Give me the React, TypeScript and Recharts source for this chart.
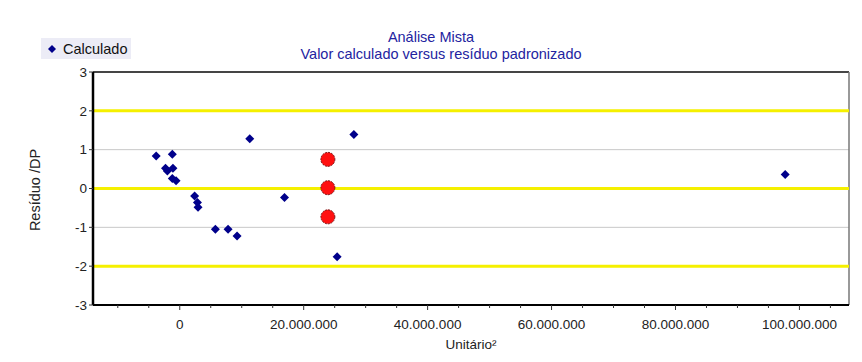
import { ScatterChart, Scatter, XAxis, YAxis, CartesianGrid, ReferenceLine } from "recharts";

// calculated value (Unitário²) vs standardized residual
const calcX = [
  -3.8e6, -2.3e6, -2.0e6, -1.2e6, -1.1e6, -1.2e6, -0.6e6, 2.4e6, 2.85e6, 2.95e6,
  5.75e6, 7.8e6, 9.25e6, 11.3e6, 16.9e6, 25.4e6, 28.1e6, 97.7e6,
];
const calcY = [
  0.84, 0.52, 0.45, 0.88, 0.52, 0.26, 0.2, -0.19, -0.36, -0.48,
  -1.05, -1.05, -1.22, 1.28, -0.23, -1.76, 1.39, 0.36,
];

// highlighted (red) points
const markX = [23.9e6, 23.9e6, 23.9e6];
const markY = [0.75, 0.02, -0.73];

const xTicks = [
  -10e6, -5e6, 0, 5e6, 10e6, 15e6, 20e6, 25e6, 30e6, 35e6, 40e6, 45e6,
  50e6, 55e6, 60e6, 65e6, 70e6, 75e6, 80e6, 85e6, 90e6, 95e6, 100e6, 105e6,
];
const xLabelTicks = [0, 20e6, 40e6, 60e6, 80e6, 100e6];
const yTicks = [-3, -2, -1, 0, 1, 2, 3];
const limitLines = [2, 0, -2];

const calcData = calcX.map((x, i) => ({ x, y: calcY[i] }));
const markData = markX.map((x, i) => ({ x, y: markY[i] }));

const FONT = "'Liberation Sans', Arial, sans-serif";
const NAVY = "#00008b";

const fmt = (n: number) => String(n).replace(/\B(?=(\d{3})+(?!\d))/g, ".");

const Diamond = (props: any) => {
  const { cx, cy } = props;
  const r = 4.5;
  return <polygon points={`${cx},${cy - r} ${cx + r},${cy} ${cx},${cy + r} ${cx - r},${cy}`} fill={NAVY} />;
};

const RedDot = (props: any) => {
  const { cx, cy } = props;
  return <circle cx={cx} cy={cy} r={7} fill="#ff1010" stroke="#7a1010" strokeWidth={1} strokeDasharray="2 1" />;
};

const XTick = (props: any) => {
  const { x, y, payload } = props;
  const major = xLabelTicks.includes(payload.value);
  return (
    <g>
      <line x1={x} x2={x} y1={y} y2={y + (major ? 5 : 3)} stroke="#333" strokeWidth={1} />
      {major && (
        <text x={x} y={y + 24} textAnchor="middle" fontFamily={FONT} fontSize={13.5} fill="#222">
          {fmt(payload.value)}
        </text>
      )}
    </g>
  );
};

export default function App() {
  return (
    <div style={{ position: "absolute", left: 0, top: 0, width: 862, height: 362, background: "#fff", fontFamily: FONT }}>
      <div style={{ position: "absolute", left: 41, top: 38, width: 90, height: 21, background: "#ececf6", display: "flex", alignItems: "center", fontSize: 14.5, color: "#111" }}>
        <svg width={10} height={10} style={{ marginLeft: 6, marginRight: 6 }}>
          <polygon points="5,1 9,5 5,9 1,5" fill={NAVY} />
        </svg>
        Calculado
      </div>
      <div style={{ position: "absolute", left: 331, top: 29, width: 200, textAlign: "center", fontSize: 14.5, color: "#2323a0" }}>
        Análise Mista
      </div>
      <div style={{ position: "absolute", left: 241, top: 46, width: 400, textAlign: "center", fontSize: 14.5, color: "#2323a0" }}>
        Valor calculado versus resíduo padronizado
      </div>
      <div style={{ position: "absolute", left: 35, top: 190, transform: "translate(-50%, -50%) rotate(-90deg)", fontSize: 14.5, color: "#222", whiteSpace: "nowrap" }}>
        Resíduo /DP
      </div>
      <div style={{ position: "absolute", left: 471, top: 337, transform: "translateX(-50%)", fontSize: 13.5, color: "#222", whiteSpace: "nowrap" }}>
        Unitário²
      </div>
      <ScatterChart width={862} height={362} margin={{ top: 72, right: 13, left: 0, bottom: 0 }} style={{ position: "absolute", left: 0, top: 0 }}>
        <CartesianGrid vertical={false} stroke="#c8c8c8" strokeWidth={1} />
        <XAxis
          type="number"
          dataKey="x"
          domain={[-14e6, 108e6]}
          allowDataOverflow
          ticks={xTicks}
          interval={0}
          height={57}
          tickSize={0}
          tickMargin={0}
          tickLine={false}
          tick={<XTick />}
          axisLine={{ stroke: "#000", strokeWidth: 2 }}
        />
        <YAxis
          type="number"
          dataKey="y"
          domain={[-3, 3]}
          ticks={yTicks}
          interval={0}
          width={93}
          tickSize={4}
          tickMargin={2}
          tickLine={{ stroke: "#333" }}
          tick={{ fill: "#222", fontFamily: FONT, fontSize: 13.5 }}
          axisLine={{ stroke: "#000", strokeWidth: 2.5 }}
        />
        <ReferenceLine y={3} stroke="#111" strokeWidth={1.5} />
        <ReferenceLine x={108e6} stroke="#777" strokeWidth={1.5} />
        {limitLines.map((v) => (
          <ReferenceLine key={v} y={v} stroke="#f5f000" strokeWidth={3} />
        ))}
        <Scatter data={calcData} shape={<Diamond />} isAnimationActive={false} />
        <Scatter data={markData} shape={<RedDot />} isAnimationActive={false} />
      </ScatterChart>
    </div>
  );
}
